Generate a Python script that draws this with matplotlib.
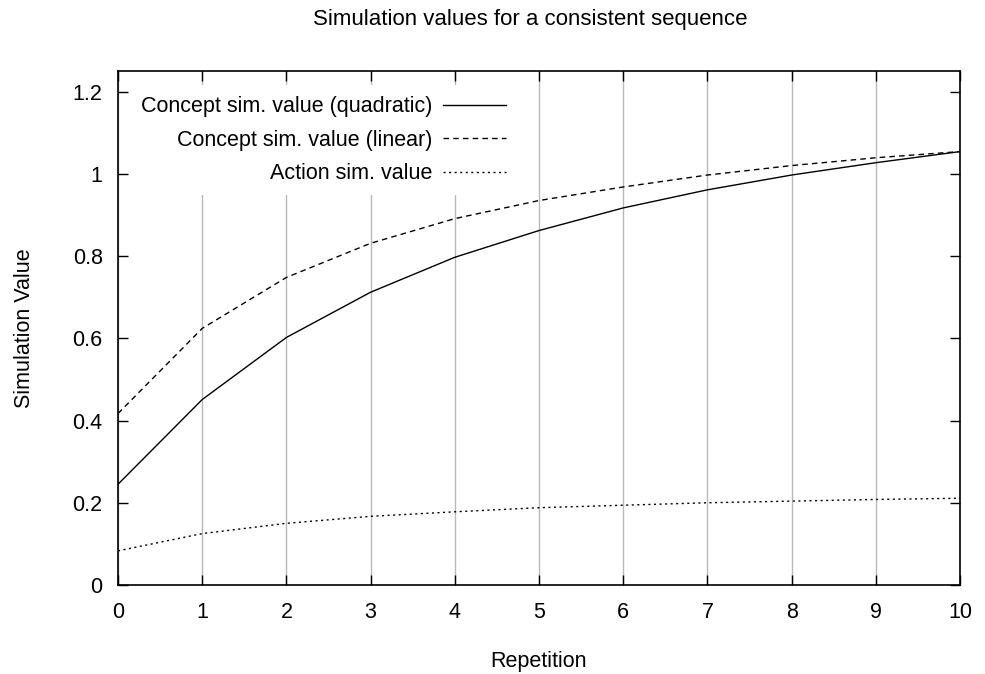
import matplotlib
matplotlib.use('Agg')
import matplotlib.pyplot as plt

# Simulation values per repetition
repetition = list(range(11))
concept_quadratic = [0.245, 0.451, 0.602, 0.712, 0.797, 0.862, 0.917, 0.961, 0.997, 1.027, 1.054]
concept_linear = [0.417, 0.624, 0.748, 0.831, 0.891, 0.935, 0.968, 0.997, 1.020, 1.039, 1.054]
action_value = [0.083, 0.125, 0.150, 0.167, 0.178, 0.188, 0.194, 0.200, 0.204, 0.208, 0.211]

plt.rcParams['font.family'] = ['Liberation Sans', 'DejaVu Sans']
plt.rcParams['font.size'] = 15.5

fig = plt.figure(figsize=(9.85, 6.74), dpi=100)
ax = fig.add_axes([118 / 985, 89 / 674, 842 / 985, 514 / 674])

ax.plot(repetition, concept_quadratic, color='black', lw=1.0,
        label='Concept sim. value (quadratic)')
ax.plot(repetition, concept_linear, color='black', lw=1.0, dashes=(4, 3),
        label='Concept sim. value (linear)')
ax.plot(repetition, action_value, color='black', lw=1.0, dashes=(1.5, 2.5),
        label='Action sim. value')

ax.set_xlim(0, 10)
ax.set_ylim(0, 1.25)
ax.set_xticks(range(11))
ax.set_yticks([0, 0.2, 0.4, 0.6, 0.8, 1.0, 1.2])
ax.set_yticklabels(['0', '0.2', '0.4', '0.6', '0.8', '1', '1.2'])
ax.tick_params(direction='in', length=7, width=1, top=True, right=True)
ax.tick_params(axis='x', pad=12)
ax.tick_params(axis='y', pad=11)
ax.xaxis.grid(True, color='#b8b8b8', lw=1)
ax.set_axisbelow(True)
for s in ax.spines.values():
    s.set_linewidth(1.2)
    s.set_zorder(6)

leg = ax.legend(loc='upper left', markerfirst=False, frameon=True,
                handlelength=2.9, handletextpad=0.5, borderaxespad=0.0,
                labelspacing=0.58, borderpad=0.5,
                bbox_to_anchor=(0.0145, 0.972))
leg.get_frame().set_edgecolor('none')
leg.get_frame().set_facecolor('white')
leg.get_frame().set_alpha(1)
for t in leg.get_texts():
    t.set_ha('right')

fig.text(530 / 985, 1 - 20 / 674, 'Simulation values for a consistent sequence',
         ha='center', va='center', fontsize=16)
fig.text(539 / 985, 1 - 662 / 674, 'Repetition', ha='center', va='center')
fig.text(25 / 985, 1 - 328 / 674, 'Simulation Value', ha='center', va='center',
         rotation=90)

plt.savefig('out.png', dpi=100)
